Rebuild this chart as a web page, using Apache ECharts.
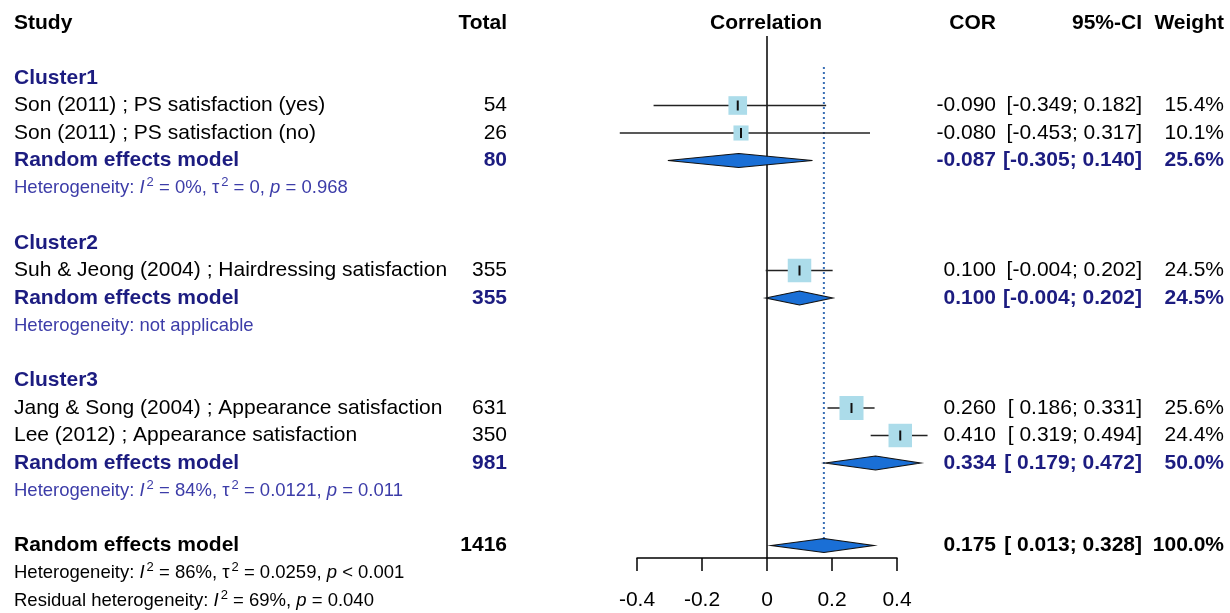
<!DOCTYPE html>
<html>
<head>
<meta charset="utf-8">
<script src="https://cdn.jsdelivr.net/npm/echarts@6/dist/echarts.min.js"></script>
<style>html,body{margin:0;padding:0;background:#fff}#c{width:1230px;height:613px}</style>
</head>
<body>
<div id="c"></div>
<script>
// ---------- data ----------
const clusterNames = ["Cluster1", "Cluster2", "Cluster3"];
const clusterRows = [2, 8, 13];

const studyLabels = [
  "Son (2011) ; PS satisfaction (yes)",
  "Son (2011) ; PS satisfaction (no)",
  "Suh & Jeong (2004) ; Hairdressing satisfaction",
  "Jang & Song (2004) ; Appearance satisfaction",
  "Lee (2012) ; Appearance satisfaction"
];
const studyRows = [3, 4, 9, 14, 15];
const studyTotal = [54, 26, 355, 631, 350];
const studyCOR = [-0.090, -0.080, 0.100, 0.260, 0.410];
const studyLower = [-0.349, -0.453, -0.004, 0.186, 0.319];
const studyUpper = [0.182, 0.317, 0.202, 0.331, 0.494];
const studyWeight = [15.4, 10.1, 24.5, 25.6, 24.4];

const subRows = [5, 10, 16];
const subTotal = [80, 355, 981];
const subCOR = [-0.087, 0.100, 0.334];
const subLower = [-0.305, -0.004, 0.179];
const subUpper = [0.140, 0.202, 0.472];
const subWeight = [25.6, 24.5, 50.0];

const hetRows = [6, 11, 17];
const hetI2 = ["0%", null, "84%"];
const hetTau2 = ["0", null, "0.0121"];
const hetP = ["= 0.968", null, "= 0.011"];

const overallRow = 19;
const overallTotal = 1416;
const overallCOR = 0.175;
const overallLower = 0.013;
const overallUpper = 0.328;
const overallWeight = 100.0;
const overallHet = { row: 20, i2: "86%", tau2: "0.0259", p: "< 0.001" };
const residualHet = { row: 21, i2: "69%", p: "= 0.040" };

const xTicks = [-0.4, -0.2, 0, 0.2, 0.4];

// ---------- layout / style ----------
const FONT = "'Liberation Sans', Arial, sans-serif";
const FS = 21, FS_SMALL = 18.5;
const BLACK = "#000000", NAVY = "#1c1c80", HETBLUE = "#3c3ca8";
const COL = { study: 14, total: 507, corr: 766, cor: 996, ci: 1142, weight: 1224 };

function f3(v) { return v.toFixed(3); }
function ciText(lo, hi) { return "[" + (lo < 0 ? "" : " ") + f3(lo) + "; " + f3(hi) + "]"; }
function wText(w) { return w.toFixed(1) + "%"; }

const texts = [];
function addT(row, x, align, text, opt) {
  texts.push(Object.assign({ row, x, align, text, size: FS, weight: "normal", color: BLACK }, opt || {}));
}
// header
addT(0, COL.study, "left", "Study", { weight: "bold" });
addT(0, COL.total, "right", "Total", { weight: "bold" });
addT(0, COL.corr, "center", "Correlation", { weight: "bold" });
addT(0, COL.cor, "right", "COR", { weight: "bold" });
addT(0, COL.ci, "right", "95%-CI", { weight: "bold" });
addT(0, COL.weight, "right", "Weight", { weight: "bold" });
// clusters
clusterNames.forEach((n, i) => addT(clusterRows[i], COL.study, "left", n, { weight: "bold", color: NAVY }));
// studies
studyLabels.forEach((s, i) => {
  const r = studyRows[i];
  addT(r, COL.study, "left", s);
  addT(r, COL.total, "right", String(studyTotal[i]));
  addT(r, COL.cor, "right", f3(studyCOR[i]));
  addT(r, COL.ci, "right", ciText(studyLower[i], studyUpper[i]));
  addT(r, COL.weight, "right", wText(studyWeight[i]));
});
// subgroup models
subRows.forEach((r, i) => {
  const o = { weight: "bold", color: NAVY };
  addT(r, COL.study, "left", "Random effects model", o);
  addT(r, COL.total, "right", String(subTotal[i]), o);
  addT(r, COL.cor, "right", f3(subCOR[i]), o);
  addT(r, COL.ci, "right", ciText(subLower[i], subUpper[i]), o);
  addT(r, COL.weight, "right", wText(subWeight[i]), o);
});
// heterogeneity
const RICH = (color) => ({
  n: { fontSize: FS_SMALL, fontFamily: FONT, fill: color, lineHeight: 24 },
  i: { fontStyle: "italic", fontSize: FS_SMALL, fontFamily: FONT, fill: color, lineHeight: 24 },
  s: { fontSize: 13, fontFamily: FONT, fill: color, verticalAlign: "top", lineHeight: 24, padding: [0, 0, 0, 2] }
});
function hetStr(prefix, i2, tau2, p) {
  let t = "{n|" + prefix + "}{i|I}{s|2}{n| = " + i2 + ", }";
  if (tau2 !== undefined) t += "{n|τ}{s|2}{n| = " + tau2 + ", }";
  t += "{i|p}{n| " + p + "}";
  return t;
}
hetRows.forEach((r, i) => {
  let t;
  if (hetI2[i] === null) t = "{n|Heterogeneity: not applicable}";
  else t = hetStr("Heterogeneity: ", hetI2[i], hetTau2[i], hetP[i]);
  addT(r, COL.study, "left", t, { size: FS_SMALL, color: HETBLUE, rich: RICH(HETBLUE) });
});
// overall
{
  const o = { weight: "bold" };
  addT(overallRow, COL.study, "left", "Random effects model", o);
  addT(overallRow, COL.total, "right", String(overallTotal), o);
  addT(overallRow, COL.cor, "right", f3(overallCOR), o);
  addT(overallRow, COL.ci, "right", ciText(overallLower, overallUpper), o);
  addT(overallRow, COL.weight, "right", wText(overallWeight), o);
  addT(overallHet.row, COL.study, "left",
    hetStr("Heterogeneity: ", overallHet.i2, overallHet.tau2, overallHet.p),
    { size: FS_SMALL, rich: RICH(BLACK) });
  addT(residualHet.row, COL.study, "left",
    hetStr("Residual heterogeneity: ", residualHet.i2, undefined, residualHet.p),
    { size: FS_SMALL, rich: RICH(BLACK) });
}

// ---------- chart ----------
const chart = echarts.init(document.getElementById("c"), null, { renderer: "canvas" });
const ROW_MAX = (558 - 23) / 27.5;

const studyData = studyCOR.map((c, i) => [c, studyRows[i], studyLower[i], studyUpper[i], studyWeight[i]]);
const diamondData = subCOR.map((c, i) => [c, subRows[i], subLower[i], subUpper[i]])
  .concat([[overallCOR, overallRow, overallLower, overallUpper]]);

const option = {
  animation: false,
  backgroundColor: "#ffffff",
  grid: { left: 637, width: 260, top: 23, bottom: 55, containLabel: false },
  xAxis: {
    type: "value", min: xTicks[0], max: xTicks[xTicks.length - 1], interval: 0.2,
    position: "bottom",
    splitLine: { show: false },
    axisLine: { show: true, onZero: false, lineStyle: { color: "#000", width: 1.5 } },
    axisTick: { show: true, inside: false, length: 13, lineStyle: { color: "#000", width: 1.5 } },
    axisLabel: {
      margin: 32, color: "#000", fontSize: FS, fontFamily: FONT,
      formatter: v => (Math.abs(v) < 1e-9 ? "0" : v.toFixed(1))
    }
  },
  yAxis: { type: "value", inverse: true, min: 0, max: ROW_MAX, show: false },
  series: [
    { // reference lines
      type: "custom", clip: false, silent: true,
      data: [[0]],
      renderItem: (p, api) => {
        const z0 = api.coord([0, 0.47]), z1 = api.coord([0, ROW_MAX]);
        const d0 = api.coord([overallCOR, 1.6]), d1 = api.coord([overallCOR, overallRow]);
        return { type: "group", children: [
          { type: "line", shape: { x1: z0[0], y1: z0[1], x2: z1[0], y2: z1[1] }, style: { stroke: "#000", lineWidth: 1.5 } },
          { type: "line", shape: { x1: d0[0], y1: d0[1], x2: d1[0], y2: d1[1] - 7 }, style: { stroke: "#3a6fb5", lineWidth: 2, lineDash: [2, 3] } }
        ] };
      }
    },
    { // studies
      type: "custom", clip: false, silent: true,
      data: studyData,
      dimensions: ["cor", "row", "lo", "hi", "w"],
      renderItem: (p, api) => {
        const c = api.coord([api.value(0), api.value(1)]);
        const lo = api.coord([api.value(2), api.value(1)]);
        const hi = api.coord([api.value(3), api.value(1)]);
        const s = 4.75 * Math.sqrt(api.value(4));
        return { type: "group", children: [
          { type: "line", shape: { x1: lo[0], y1: lo[1], x2: hi[0], y2: hi[1] }, style: { stroke: "#222", lineWidth: 1.5 } },
          { type: "rect", shape: { x: c[0] - s / 2, y: c[1] - s / 2, width: s, height: s }, style: { fill: "#acdcea" } },
          { type: "line", shape: { x1: c[0], y1: c[1] - 5, x2: c[0], y2: c[1] + 5 }, style: { stroke: "#111", lineWidth: 2 } }
        ] };
      }
    },
    { // diamonds
      type: "custom", clip: false, silent: true,
      data: diamondData,
      renderItem: (p, api) => {
        const c = api.coord([api.value(0), api.value(1)]);
        const lo = api.coord([api.value(2), api.value(1)]);
        const hi = api.coord([api.value(3), api.value(1)]);
        const h = 7;
        return { type: "polygon", shape: { points: [[lo[0], lo[1]], [c[0], c[1] - h], [hi[0], hi[1]], [c[0], c[1] + h]] },
          style: { fill: "#1a6fd6", stroke: "#111", lineWidth: 1.2 } };
      }
    },
    { // texts
      type: "custom", clip: false, silent: true,
      data: texts.map(t => [0, t.row]),
      renderItem: (p, api) => {
        const t = texts[p.dataIndex];
        const y = api.coord([0, api.value(1)])[1];
        const style = {
          text: t.text, fill: t.color, fontSize: t.size, fontFamily: FONT, fontWeight: t.weight,
          align: t.align, verticalAlign: "middle"
        };
        if (t.rich) { style.rich = t.rich; }
        return { type: "text", x: t.x, y: y, style };
      }
    }
  ]
};
chart.setOption(option);
</script>
</body>
</html>
